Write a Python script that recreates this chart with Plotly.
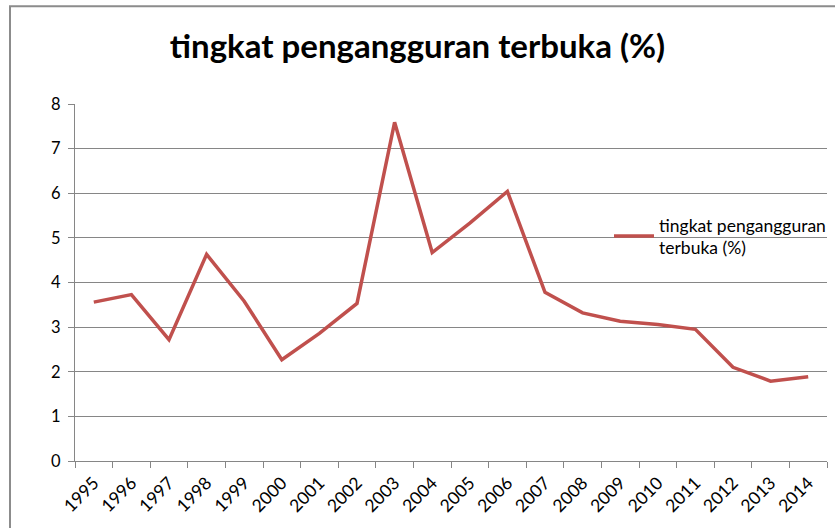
import plotly.graph_objects as go

years = [str(y) for y in range(1995, 2015)]
rates = [3.56, 3.73, 2.72, 4.63, 3.58, 2.27, 2.86, 3.53, 7.59, 4.67,
         5.33, 6.04, 3.78, 3.32, 3.13, 3.06, 2.95, 2.10, 1.79, 1.89]
series_name = "tingkat pengangguran<br>terbuka (%)"
title_text = "tingkat pengangguran terbuka (%)"

W, H = 835, 528
L, R, T, B = 75, 8, 104, 66.5
pw, ph = W - L - R, H - T - B

fig = go.Figure()
fig.add_trace(go.Scatter(x=years, y=rates, mode="lines", name=series_name,
                         line=dict(color="#C0504D", width=3.5)))

grid = "#868686"
fig.update_layout(
    width=W, height=H,
    margin=dict(l=L, r=R, t=T, b=B, autoexpand=False),
    paper_bgcolor="white", plot_bgcolor="white",
    font=dict(family="Lato, Open Sans, sans-serif", color="#000000", size=15),
    title=dict(text="<b>" + title_text + "</b>", x=0.5, xanchor="center",
               y=1 - 46 / H, yanchor="middle", font=dict(size=33)),
    showlegend=True,
    legend=dict(x=(609 - L) / pw, xanchor="left", y=1 - (207 - T) / ph, yanchor="top",
                bgcolor="rgba(0,0,0,0)", font=dict(size=17.5), itemwidth=40),
    xaxis=dict(type="category", range=[-0.5, 19.5], tickson="boundaries",
               showgrid=False, showline=True, linecolor=grid, linewidth=1,
               ticks="outside", ticklen=6, tickcolor=grid, tickangle=-45,
               tickfont=dict(size=17.5), automargin=False, ticklabelstandoff=4),
    yaxis=dict(range=[0, 8], dtick=1, showgrid=True, gridcolor=grid, gridwidth=1,
               showline=True, linecolor=grid, linewidth=1, ticks="outside",
               ticklen=6, tickcolor=grid, zeroline=False, tickfont=dict(size=16.5),
               automargin=False, ticklabelstandoff=4),
)

fig.add_shape(type="rect", xref="paper", yref="paper",
              x0=(10 - L) / pw, x1=(W + 20 - L) / pw,
              y0=-(H + 20 - T - ph) / ph, y1=1 + (T - 6) / ph,
              line=dict(color="#8C8C8C", width=2), layer="below")

fig.write_html("out.html", config={"displayModeBar": False},
               post_script="document.body.style.margin='0';document.body.style.overflow='hidden';")
